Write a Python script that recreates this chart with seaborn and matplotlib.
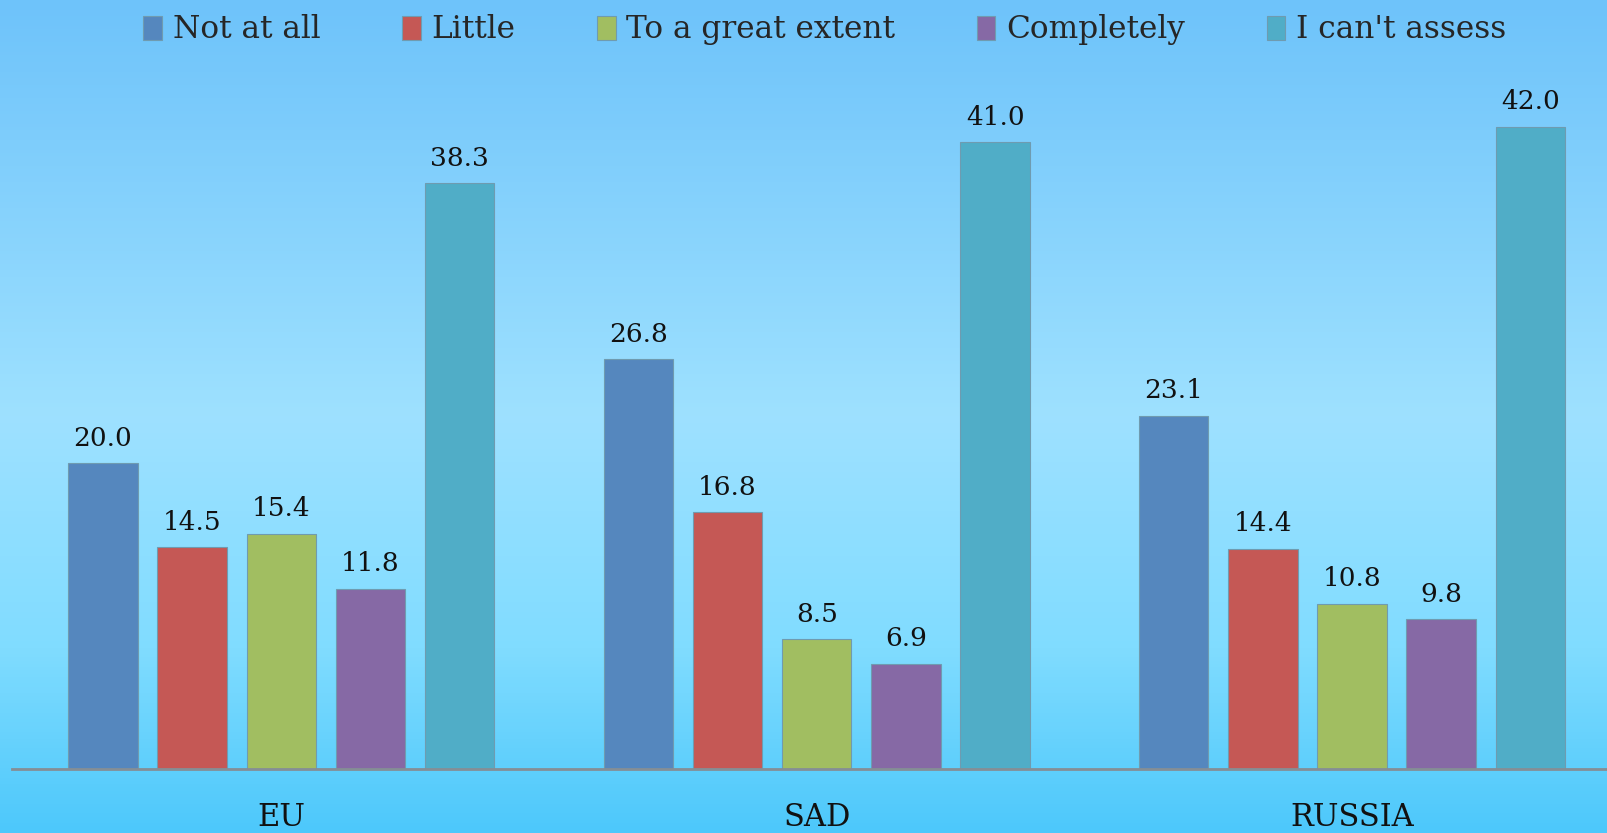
import numpy as np
import pandas as pd
import matplotlib
matplotlib.use("Agg")
import matplotlib.pyplot as plt
from matplotlib.colors import LinearSegmentedColormap
import seaborn as sns

regions = ["EU", "SAD", "RUSSIA"]
answers = ["Not at all", "Little", "To a great extent", "Completely", "I can't assess"]
not_at_all = [20.0, 26.8, 23.1]
little = [14.5, 16.8, 14.4]
great_extent = [15.4, 8.5, 10.8]
completely = [11.8, 6.9, 9.8]
cant_assess = [38.3, 41.0, 42.0]

colors = ["#5587be", "#c55855", "#a1be61", "#8669a5", "#50adc7"]

rows = []
for ans, vals in zip(answers, [not_at_all, little, great_extent, completely, cant_assess]):
    for reg, v in zip(regions, vals):
        rows.append({"region": reg, "answer": ans, "value": v})
df = pd.DataFrame(rows)

sns.set_style("white")
plt.rcParams["font.family"] = ["DejaVu Serif"]

fig = plt.figure(figsize=(16.08, 8.33), dpi=100)

# фон с градиентом
bg = fig.add_axes([0, 0, 1, 1], zorder=-10)
cmap = LinearSegmentedColormap.from_list(
    "bg", [(0.0, "#6ec3fa"), (0.5, "#9ee1ff"), (0.78, "#80dcff"), (1.0, "#4dc8fb")])
grad = np.linspace(0, 1, 256).reshape(-1, 1)
bg.imshow(grad, aspect="auto", cmap=cmap, extent=[0, 1, 0, 1], origin="upper")
bg.axis("off")

W, H = 1608, 833
left, right = 12 / W, 1.0
bottom = (H - 769) / H
top = (H - 81) / H
ax = fig.add_axes([left, bottom, right - left, top - bottom])
ax.patch.set_alpha(0)

sns.barplot(data=df, x="region", y="value", hue="answer", hue_order=answers,
            palette=colors, width=0.833, gap=0.22, ax=ax,
            edgecolor="#6f9bb0", linewidth=0.8, saturation=1, legend=True)

for cont in ax.containers:
    ax.bar_label(cont, fmt="%.1f", padding=9, fontsize=19, color="#111111")

ax.set_ylim(0, 45)
ax.set_xlim(-0.503, 2.478)
ax.set_xlabel("")
ax.set_ylabel("")
ax.set_yticks([])
for s in ["top", "right", "left"]:
    ax.spines[s].set_visible(False)
ax.spines["bottom"].set_color("#858e95")
ax.spines["bottom"].set_linewidth(2)
ax.tick_params(axis="x", length=0, pad=24, labelsize=22, labelcolor="#111111")

handles, labels = ax.get_legend_handles_labels()
ax.get_legend().remove()
fig.legend(handles, labels, loc="center", bbox_to_anchor=(0.513, 0.964), ncol=5,
           frameon=False, fontsize=22.5, handlelength=0.6, handleheight=0.8,
           handletextpad=0.35, columnspacing=2.6)

fig.savefig("out.png", dpi=100)
